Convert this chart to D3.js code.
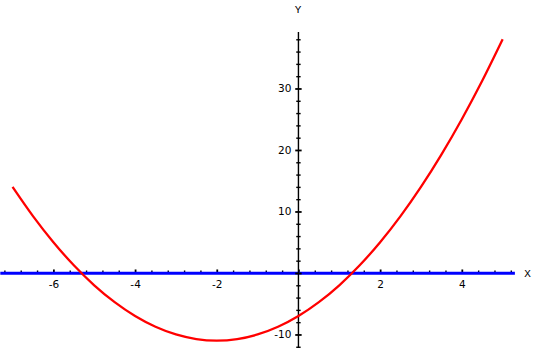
<!DOCTYPE html>
<html>
<head>
<meta charset="utf-8">
<script src="https://cdn.jsdelivr.net/npm/d3@7"></script>
<style>
  html, body { margin: 0; padding: 0; background: #fff; }
  svg { display: block; }
</style>
</head>
<body>
<svg id="chart" width="537" height="349"></svg>
<script>
// ---- data ----
const curveX = [-7, -6.5, -6, -5.5, -5, -4.5, -4, -3.5, -3, -2.5, -2, -1.5, -1, -0.5, 0, 0.5, 1, 1.5, 2, 2.5, 3, 3.5, 4, 4.5, 5];
const curveY = [14, 9.25, 5, 1.25, -2, -4.75, -7, -8.75, -10, -10.75, -11, -10.75, -10, -8.75, -7, -4.75, -2, 1.25, 5, 9.25, 14, 19.25, 25, 31.25, 38];
const xTickLabels = [-6, -4, -2, 2, 4];
const yTickLabels = [-10, 10, 20, 30];
const xMinorStep = 0.4;
const yMinorStep = 2;
const xAxisName = "X";
const yAxisName = "Y";

const svg = d3.select("#chart");

const x = d3.scaleLinear().domain([-7.3, 5.3]).range([0.3, 514.9]);
const y = d3.scaleLinear().domain([-12.2, 39.2]).range([348, 31.9]);

const x0 = x(0), y0 = y(0);

// minor tick positions
const xMinor = d3.range(-7.2, 5.2 + 1e-9, xMinorStep).map(v => +v.toFixed(2));
const yMinor = d3.range(-12, 38 + 1e-9, yMinorStep);

// ---- X axis ticks (above the blue line) ----
const gxTicks = svg.append("g").attr("transform", `translate(0,${y0})`)
  .call(d3.axisTop(x).tickValues(xMinor).tickSize(2.5).tickFormat(""));
gxTicks.select(".domain").remove();
gxTicks.selectAll(".tick line").attr("stroke", "#000").attr("stroke-width", 1.4);
gxTicks.selectAll(".tick").filter(d => Math.abs(d % 2) < 1e-6)
  .select("line").attr("y2", -3.5).attr("stroke-width", 1.8);

// blue x-axis line
svg.append("line")
  .attr("x1", x(-7.3)).attr("x2", x(5.3))
  .attr("y1", y0 + 0.2).attr("y2", y0 + 0.2)
  .attr("stroke", "#0000ff").attr("stroke-width", 3);

// X tick labels
const gxLab = svg.append("g").attr("transform", `translate(0,${y0})`)
  .call(d3.axisBottom(x).tickValues(xTickLabels).tickSize(0).tickFormat(d => d < 0 ? "-" + (-d) : d));
gxLab.select(".domain").remove();
gxLab.selectAll("text")
  .attr("y", 15.5).attr("dy", 0)
  .attr("font-family", "DejaVu Sans, sans-serif").attr("font-size", 10.5).attr("fill", "#000");

// ---- Y axis ----
svg.append("line")
  .attr("x1", x0).attr("x2", x0)
  .attr("y1", y(-12.2)).attr("y2", y(39.2))
  .attr("stroke", "#000").attr("stroke-width", 1.4);

[d3.axisLeft, d3.axisRight].forEach(ax => {
  const g = svg.append("g").attr("transform", `translate(${x0},0)`)
    .call(ax(y).tickValues(yMinor).tickSize(2.2).tickFormat(""));
  g.select(".domain").remove();
  g.selectAll(".tick line").attr("stroke", "#000").attr("stroke-width", 1.4);
  g.selectAll(".tick").filter(d => d % 10 === 0)
    .select("line").attr("x2", ax === d3.axisLeft ? -3.2 : 3.2).attr("stroke-width", 1.8);
});

const gyLab = svg.append("g").attr("transform", `translate(${x0},0)`)
  .call(d3.axisLeft(y).tickValues(yTickLabels).tickSize(0).tickPadding(7).tickFormat(d => d < 0 ? "-" + (-d) : d));
gyLab.select(".domain").remove();
gyLab.selectAll("text")
  .attr("font-family", "DejaVu Sans, sans-serif").attr("font-size", 10.5).attr("fill", "#000");

// axis names
svg.append("text").text(yAxisName)
  .attr("x", x0 - 0.5).attr("y", 12.5).attr("text-anchor", "middle")
  .attr("font-family", "Liberation Mono, monospace").attr("font-size", 11).attr("fill", "#000");
svg.append("text").text(xAxisName)
  .attr("x", 527.5).attr("y", 277).attr("text-anchor", "middle")
  .attr("font-family", "Liberation Mono, monospace").attr("font-size", 11).attr("fill", "#000");

// ---- curve ----
const pts = curveX.map((v, i) => [v, curveY[i]]);
svg.append("path")
  .datum(pts)
  .attr("fill", "none")
  .attr("stroke", "#ff0000")
  .attr("stroke-width", 2.3)
  .attr("d", d3.line().x(d => x(d[0])).y(d => y(d[1])).curve(d3.curveMonotoneX));
</script>
</body>
</html>
